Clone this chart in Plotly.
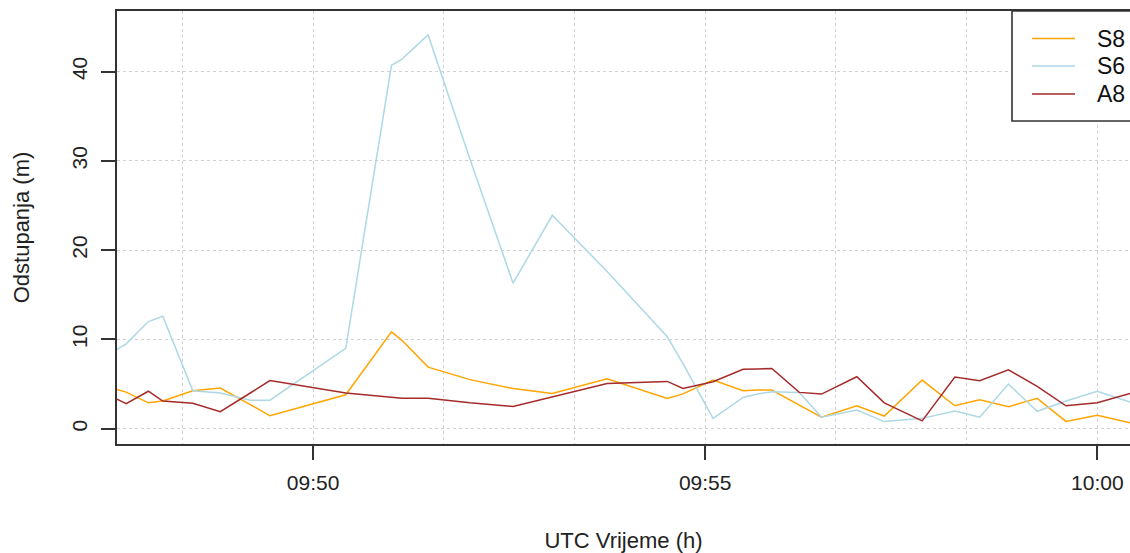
import plotly.graph_objects as go

# Sample timestamps (UTC) and positional deviations in metres for each receiver
times = [
    "09:47:30", "09:47:37", "09:47:54", "09:48:05", "09:48:28", "09:48:49",
    "09:49:12", "09:49:27", "09:50:25", "09:51:00", "09:51:08", "09:51:28",
    "09:52:00", "09:52:33", "09:53:03", "09:53:45", "09:54:31", "09:54:43",
    "09:55:06", "09:55:29", "09:55:40", "09:55:51", "09:56:12", "09:56:29",
    "09:56:56", "09:57:17", "09:57:46", "09:58:11", "09:58:30", "09:58:52",
    "09:59:14", "09:59:36", "10:00:00", "10:00:25",
]
s8 = [4.4, 4.1, 2.9, 3.1, 4.25, 4.55, 2.7, 1.45, 3.8, 10.85, 9.9, 6.9,
      5.5, 4.5, 3.96, 5.6, 3.4, 3.9, 5.45, 4.25, 4.33, 4.33, 2.65, 1.3,
      2.57, 1.42, 5.45, 2.57, 3.25, 2.46, 3.4, 0.82, 1.5, 0.66]
s6 = [8.9, 9.5, 12.0, 12.6, 4.25, 4.0, 3.2, 3.2, 9.0, 40.7, 41.4, 44.1,
      30.2, 16.3, 23.9, 17.6, 10.3, 7.3, 1.16, 3.5, 3.9, 4.14, 4.07, 1.3,
      2.1, 0.8, 1.16, 1.98, 1.3, 5.0, 1.95, 3.1, 4.2, 3.0]
a8 = [3.3, 2.8, 4.2, 3.1, 2.85, 1.9, 4.0, 5.4, 4.0, 3.45, 3.4, 3.4,
      2.9, 2.5, 3.6, 5.07, 5.3, 4.5, 5.26, 6.65, 6.7, 6.75, 4.07, 3.88,
      5.82, 2.9, 0.88, 5.78, 5.37, 6.6, 4.74, 2.57, 2.9, 3.96]

series_names = ["S8", "S6", "A8"]
series_values = [s8, s6, a8]
series_colors = ["#FFA500", "#ADD8E6", "#A52A2A"]

x_tick_times = ["09:50", "09:55", "10:00"]
y_ticks = [0, 10, 20, 30, 40]

day = "2024-01-01 "
xs = [day + t for t in times]

FONT = "Liberation Sans, Arial, sans-serif"
FRAME = "#333333"
GRID = "#d0d0d0"
TEXT = "#222222"

fig = go.Figure()
for name, vals, col in zip(series_names, series_values, series_colors):
    fig.add_trace(go.Scatter(
        x=xs, y=vals, mode="lines", name=name,
        line=dict(color=col, width=1.5),
        showlegend=False,
    ))

fig.update_layout(
    width=1130, height=553,
    margin=dict(l=117, r=0, t=11, b=109, autoexpand=False),
    paper_bgcolor="white", plot_bgcolor="white",
    font=dict(family=FONT, color=TEXT),
)

fig.update_xaxes(
    type="date",
    automargin=False,
    range=[day + "09:47:30", day + "10:00:25"],
    tickmode="array",
    tickvals=[day + t for t in x_tick_times],
    ticktext=x_tick_times,
    ticks="outside", ticklen=14, tickwidth=1.5, tickcolor=FRAME,
    tickfont=dict(size=21, family=FONT, color=TEXT),
    ticklabelstandoff=5,
    showline=True, linecolor=FRAME, linewidth=1.6, mirror=True,
    showgrid=True, gridcolor=GRID, gridwidth=1, griddash="3px,3px",
    minor=dict(tickmode="linear", tick0=day + "09:48:20", dtick=100000,
               showgrid=True, gridcolor=GRID, gridwidth=1, griddash="3px,3px",
               ticks=""),
    title=dict(text="UTC Vrijeme (h)", font=dict(size=22, family=FONT, color=TEXT),
               standoff=41),
    zeroline=False,
)

fig.update_yaxes(
    automargin=False,
    range=[-1.71, 46.78],
    tickmode="array", tickvals=y_ticks,
    tickangle=-90,
    ticks="outside", ticklen=14, tickwidth=1.5, tickcolor=FRAME,
    tickfont=dict(size=21, family=FONT, color=TEXT),
    ticklabelstandoff=6,
    showline=True, linecolor=FRAME, linewidth=1.6, mirror=False,
    showgrid=True, gridcolor=GRID, gridwidth=1, griddash="3px,3px",
    title=dict(text="Odstupanja (m)", font=dict(size=22, family=FONT, color=TEXT),
               standoff=32),
    zeroline=False,
)

# Legend box in the top-right corner (right side runs past the figure edge)
plot_w = 1130 - 117
plot_h = 553 - 11 - 109


def px_x(px):
    return (px - 117) / plot_w


def px_y(py):
    return 1 - (py - 11) / plot_h


fig.add_shape(type="rect", xref="paper", yref="paper",
              x0=px_x(1012), x1=px_x(1145), y0=px_y(121), y1=px_y(11),
              line=dict(color=FRAME, width=1.6), fillcolor="white", layer="above")
row_y = [38.5, 66, 94]
for name, col, ry in zip(series_names, series_colors, row_y):
    fig.add_shape(type="line", xref="paper", yref="paper",
                  x0=px_x(1032), x1=px_x(1075), y0=px_y(ry), y1=px_y(ry),
                  line=dict(color=col, width=1.5), layer="above")
    fig.add_annotation(xref="paper", yref="paper", x=px_x(1095), y=px_y(ry),
                       text=name, showarrow=False, xanchor="left", yanchor="middle",
                       font=dict(size=23, family=FONT, color="#111111"))

fig.write_html("out.html")
